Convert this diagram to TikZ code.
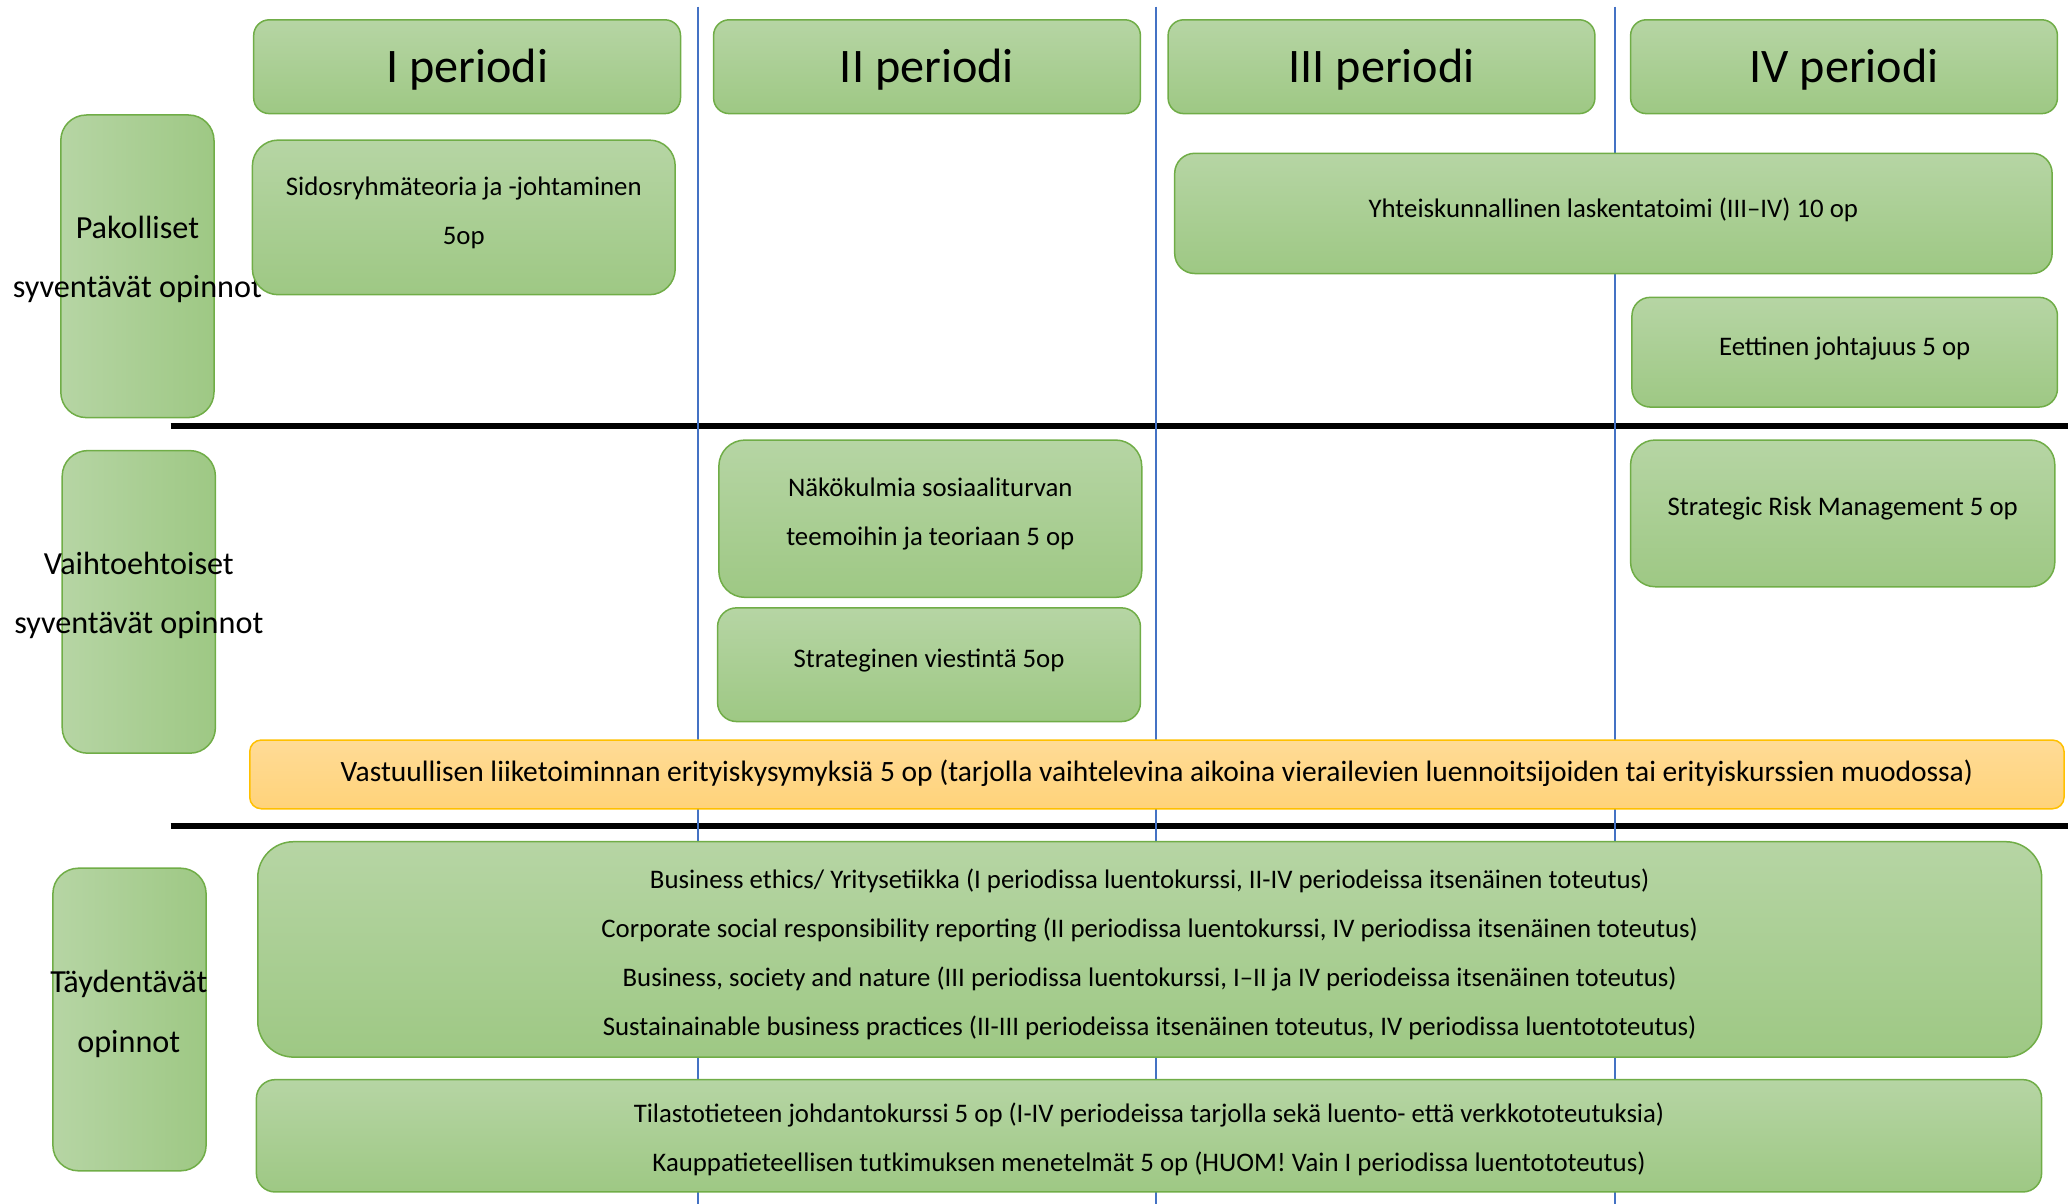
\documentclass[tikz,border=0pt]{standalone}
\usepackage{fontspec}
\setmainfont{Carlito}

\definecolor{boxtop}{RGB}{182,213,164}
\definecolor{boxbot}{RGB}{158,200,132}
\definecolor{boxline}{RGB}{112,173,71}
\definecolor{opttop}{RGB}{255,219,150}
\definecolor{optbot}{RGB}{255,211,122}
\definecolor{optline}{RGB}{255,192,0}
\definecolor{guideblue}{RGB}{68,114,196}

\begin{document}
\begin{tikzpicture}[x=1pt,y=-1pt,
  course/.style={draw=boxline, line width=1.5pt, top color=boxtop, bottom color=boxbot,
    rounded corners=#1, inner sep=0pt},
  coursetext/.style={align=center, inner sep=0pt, font=\fontsize{26.8}{49}\selectfont},
  period/.style={course=15.6, minimum width=426.8, minimum height=93.8},
  periodtext/.style={inner sep=0pt, font=\fontsize{48.2}{58}\selectfont},
  studybox/.style={draw=boxline, line width=1.5pt, left color=boxtop, right color=boxbot,
    rounded corners=25.5, minimum width=153.2, minimum height=302.6},
  studytext/.style={align=center, font=\fontsize{32.2}{59.5}\selectfont},
  guide/.style={guideblue, line width=1.6pt},
  divider/.style={line width=5.5pt}]
  \useasboundingbox (0,0) rectangle (2072,1204);

  % periods and dividers
  \draw[divider] (170.5,425.8) -- (2068,425.8);
  \draw[divider] (170.5,825.9) -- (2068,825.9);
  \foreach \x in {697.9,1156.2,1614.8}
    \draw[guide] (\x,6.6) -- (\x,1204);
  \foreach \n/\x in {I/467.1,II/927,III/1381.5,IV/1844}
    \path (\x,66.7) node[period](p\n){}
          (\x,69.6) node[periodtext](p\n text){\n\ periodi};

  % groups
  \path (137.4,266.3) node[studybox](pak){}
        (137.4,259.5) node[studytext](paktext){Pakolliset\\syventävät opinnot}
        (138.8,601.9) node[studybox](vaihto){}
        (138.8,595.6) node[studytext](vaihtotext){Vaihtoehtoiset\\syventävät opinnot}
        (129.5,1019.5) node[studybox](tayd){}
        (128.8,1014.1) node[studytext](taydtext){Täydentävät\\opinnot};

  % courses
  \path (463.8,217.4) node[course=25.8, minimum width=422.8, minimum height=154.6](sidos){}
        (463.8,212.8) node[coursetext](sidostext){Sidosryhmäteoria ja -johtaminen\\5op}
        (1613.4,213.4) node[course=20, minimum width=877.4, minimum height=120.2](yhteis){}
        (1613.4,209.4) node[coursetext](yhteistext){Yhteiskunnallinen laskentatoimi (III–IV) 10 op}
        (1844.7,352.2) node[course=18.3, minimum width=425.5, minimum height=109.7](eett){}
        (1844.7,348.2) node[coursetext](eetttext){Eettinen johtajuus 5 op}
        (930.3,518.7) node[course=26.2, minimum width=422.9, minimum height=157.3](nako){}
        (930.3,514.1) node[coursetext](nakotext){Näkökulmia sosiaaliturvan\\teemoihin ja teoriaan 5 op}
        (1842.7,513.4) node[course=24.5, minimum width=424.2, minimum height=146.7](risk){}
        (1842.7,508.1) node[coursetext](risktext){Strategic Risk Management 5 op}
        (929,664.7) node[course=19, minimum width=422.9, minimum height=113.7](viest){}
        (929,660.7) node[coursetext](viesttext){Strateginen viestintä 5op}
        (1156.9,774.4) node[course=11.5, draw=optline, top color=opttop, bottom color=optbot,
          minimum width=1814.3, minimum height=68.7](vastuu){}
        (1156.9,773.1) node[coursetext, font=\fontsize{29.5}{36}\selectfont](vastuutext)
          {Vastuullisen liiketoiminnan erityiskysymyksiä 5 op (tarjolla vaihtelevina aikoina vierailevien luennoitsijoiden tai erityiskurssien muodossa)}
        (1149.7,949.4) node[course=35.9, minimum width=1783.9, minimum height=215.4](bus){}
        (1149.7,954.7) node[coursetext](bustext)
          {Business ethics/ Yritysetiikka (I periodissa luentokurssi, II-IV periodeissa itsenäinen toteutus)\\
           Corporate social responsibility reporting (II periodissa luentokurssi, IV periodissa itsenäinen toteutus)\\
           Business, society and nature (III periodissa luentokurssi, I–II ja IV periodeissa itsenäinen toteutus)\\
           Sustainainable business practices (II-III periodeissa itsenäinen toteutus, IV periodissa luentototeutus)}
        (1149,1135.8) node[course=18.7, minimum width=1785.2, minimum height=112.3](tilasto){}
        (1149,1139.8) node[coursetext](tilastotext)
          {Tilastotieteen johdantokurssi 5 op (I-IV periodeissa tarjolla sekä luento- että verkkototeutuksia)\\
           Kauppatieteellisen tutkimuksen menetelmät 5 op (HUOM! Vain I periodissa luentototeutus)};
\end{tikzpicture}
\end{document}
